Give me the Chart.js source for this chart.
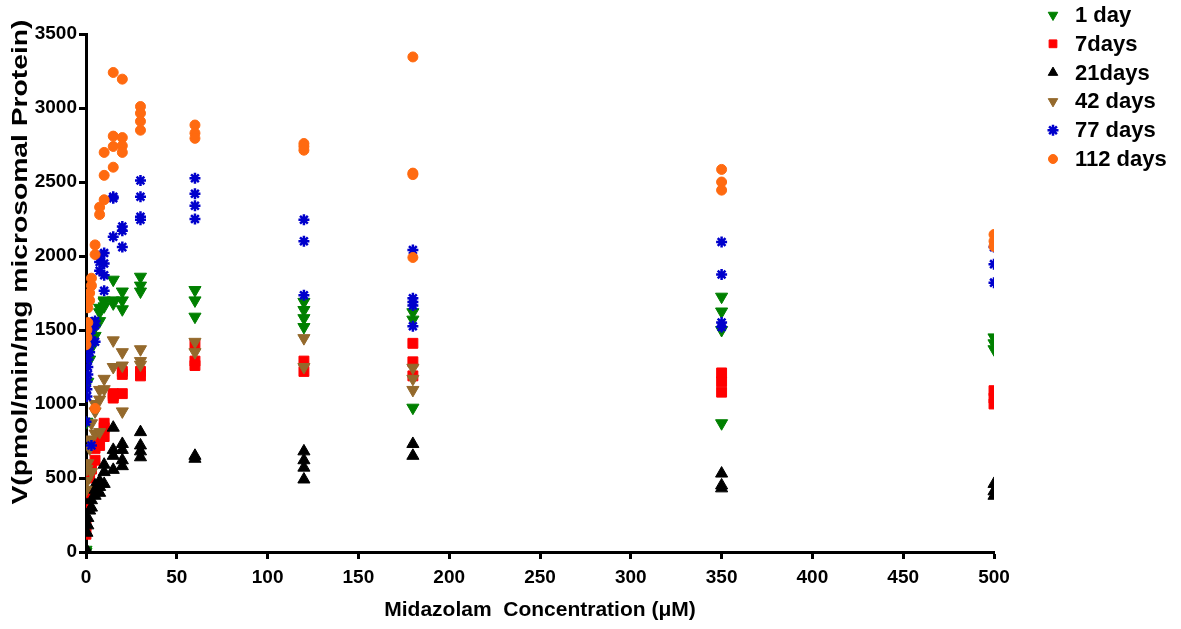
<!DOCTYPE html>
<html>
<head>
<meta charset="utf-8">
<script src="https://cdn.jsdelivr.net/npm/chart.js@4"></script>
<style>
  body { margin: 0; background: #fff; }
  #wrap { width: 1181px; height: 629px; }
</style>
</head>
<body>
<div id="wrap"><canvas id="vChart"></canvas></div>
<script>
// midazolam concentrations (uM)
const conc = [0, 0.5, 1, 2, 3, 5, 7.5, 10, 15, 20, 30, 60, 120, 180, 350, 500];

// replicate V values at each concentration
const day1 = [[0, 15], [880], [1150], [1300], [1380, 1420], [1460, 1520], [1560, 1620, 1650], [1660, 1690, 1700],
  [1840, 1700, 1680], [1760, 1700, 1640], [1860, 1800, 1760], [1770, 1700, 1590], [1690, 1635, 1580, 1520],
  [1620, 1570, 975], [1725, 1625, 1500, 870], [1450, 1410, 1370]];
const day7 = [[120, 180], [300], [400], [500], [560], [620, 700, 740], [720, 790], [780, 840, 870],
  [1040, 1055, 1070], [1070, 1200, 1220], [1220, 1190], [1400, 1290, 1260], [1290, 1220],
  [1410, 1285, 1190], [1210, 1150, 1080], [1090, 1040, 1000]];
const day21 = [[0, 20], [130], [180, 230], [280], [300, 350], [380, 420, 450], [480, 440, 400], [590, 540, 460],
  [840, 690, 650, 555], [730, 690, 620, 580], [810, 720, 680, 640], [650, 630], [680, 620, 570, 490],
  [730, 650], [530, 450, 430], [460, 410, 380]];
const day42 = [[420], [480, 560], [600], [700, 760], [870, 540], [800, 950, 1000], [1030, 1095, 810], [1170, 1100],
  [1430, 1250], [1350, 1260, 950], [1370, 1290, 1265], [1420, 1350], [1445, 1250],
  [1245, 1170, 1095], [], []];
const day77 = [[880], [1050, 1100, 1150], [1200, 1250, 1300], [1350, 1400, 1450], [1500, 1550, 720], [1530, 1560, 1420],
  [1900, 1960, 2000], [2020, 1950, 1870, 1765], [2400, 2390, 2130], [2200, 2170, 2060], [2510, 2400, 2265, 2245],
  [2525, 2420, 2340, 2250], [2245, 2100, 1735], [2040, 1715, 1690, 1665, 1525], [2095, 1875, 1550, 1520],
  [2060, 1945, 1820]];
const day112 = [[1400], [1450, 1500], [1550, 1650], [1700, 1750], [1800, 1850], [2010, 2075, 970], [2280, 2330],
  [2700, 2545, 2380], [3240, 2810, 2740, 2600], [3195, 2800, 2745, 2700], [3010, 2965, 2910, 2850],
  [2885, 2830, 2795], [2760, 2740, 2715], [3345, 2560, 2550, 1990], [2585, 2500, 2445], [2145, 2100, 2065]];

const seriesLabels = ['1 day', '7days', '21days', '42 days', '77 days', '112 days'];
const seriesValues = [day1, day7, day21, day42, day77, day112];
const seriesColors = ['#008000', '#ff0000', '#000000', '#94692c', '#0000cc', '#ff6a10'];
const seriesStyles = ['triangle', 'rect', 'triangle', 'triangle', 'star', 'circle'];
const seriesRotation = [180, 0, 0, 180, 0, 0];
const seriesRadius = [7, 7, 7, 7, 5.5, 5];
const legendRadius = [5.5, 5.5, 5.5, 5.5, 5.5, 4.5];

const xTicks = [0, 50, 100, 150, 200, 250, 300, 350, 400, 450, 500];
const yTicks = [0, 500, 1000, 1500, 2000, 2500, 3000, 3500];

function toPoints(values) {
  const pts = [];
  values.forEach((reps, i) => reps.forEach(v => pts.push({ x: conc[i], y: v })));
  return pts;
}

const datasets = seriesLabels.map((label, i) => ({
  label: label,
  data: toPoints(seriesValues[i]),
  pointStyle: seriesStyles[i],
  pointRotation: seriesRotation[i],
  pointRadius: seriesRadius[i],
  pointHoverRadius: seriesRadius[i],
  pointBackgroundColor: seriesColors[i],
  pointBorderColor: seriesColors[i],
  pointBorderWidth: seriesStyles[i] === 'star' ? 2.5 : 1,
  order: 6 - i,
  showLine: false
}));

// legend drawn at the top right, like the original
const sideLegend = {
  id: 'sideLegend',
  afterDraw(chart) {
    const ctx = chart.ctx;
    ctx.save();
    chart.data.datasets.forEach((ds, i) => {
      const y = 15 + i * 28.8;
      ctx.fillStyle = seriesColors[i];
      ctx.strokeStyle = seriesColors[i];
      ctx.lineWidth = ds.pointBorderWidth;
      Chart.helpers.drawPoint(ctx, {
        pointStyle: ds.pointStyle,
        rotation: ds.pointRotation,
        radius: legendRadius[i],
        borderWidth: ds.pointBorderWidth
      }, 1053, y);
      ctx.fillStyle = '#000';
      ctx.font = 'bold 22px "Liberation Sans", Arial, sans-serif';
      ctx.textAlign = 'left';
      ctx.textBaseline = 'middle';
      ctx.fillText(ds.label, 1075, y + 1);
    });
    ctx.restore();
  }
};

// y title is stretched along its length in the original
const yTitle = {
  id: 'yTitle',
  afterDraw(chart) {
    const ctx = chart.ctx;
    const text = 'V(pmol/min/mg microsomal Protein)';
    ctx.save();
    ctx.font = 'bold 22px "Liberation Sans", Arial, sans-serif';
    const w = ctx.measureText(text).width;
    ctx.translate(21, 262);
    ctx.rotate(-Math.PI / 2);
    ctx.scale(485 / w, 1);
    ctx.fillStyle = '#000';
    ctx.textAlign = 'center';
    ctx.textBaseline = 'middle';
    ctx.fillText(text, 0, 0);
    ctx.restore();
  }
};

const tickFont = { family: '"Liberation Sans", Arial, sans-serif', size: 19, weight: 'bold' };

new Chart(document.getElementById('vChart'), {
  type: 'scatter',
  data: { datasets: datasets },
  plugins: [sideLegend, yTitle],
  options: {
    responsive: true,
    maintainAspectRatio: false,
    devicePixelRatio: 1,
    animation: false,
    layout: { padding: { top: 34, right: 187, left: 0, bottom: 0 } },
    plugins: {
      legend: { display: false },
      tooltip: { enabled: false }
    },
    scales: {
      x: {
        type: 'linear',
        min: 0,
        max: 500,
        afterFit: s => { s.height = 77; },
        afterBuildTicks: s => { s.ticks = xTicks.map(v => ({ value: v })); },
        grid: { drawOnChartArea: false, drawTicks: true, tickLength: 7, tickWidth: 3, tickColor: '#000' },
        border: { display: true, width: 3, color: '#000' },
        ticks: { color: '#000', font: tickFont, padding: 7, maxRotation: 0, callback: v => String(v) },
        title: {
          display: true,
          text: 'Midazolam  Concentration (\u03bcM)',
          color: '#000',
          font: { family: '"Liberation Sans", Arial, sans-serif', size: 21, weight: 'bold' },
          padding: { top: 4, bottom: 6 }
        }
      },
      y: {
        type: 'linear',
        min: 0,
        max: 3500,
        afterFit: s => { s.width = 86; },
        afterBuildTicks: s => { s.ticks = yTicks.map(v => ({ value: v })); },
        grid: { drawOnChartArea: false, drawTicks: true, tickLength: 7, tickWidth: 3, tickColor: '#000' },
        border: { display: true, width: 3, color: '#000' },
        ticks: { color: '#000', font: tickFont, padding: 2, callback: v => String(v) }
      }
    }
  }
});
</script>
</body>
</html>
